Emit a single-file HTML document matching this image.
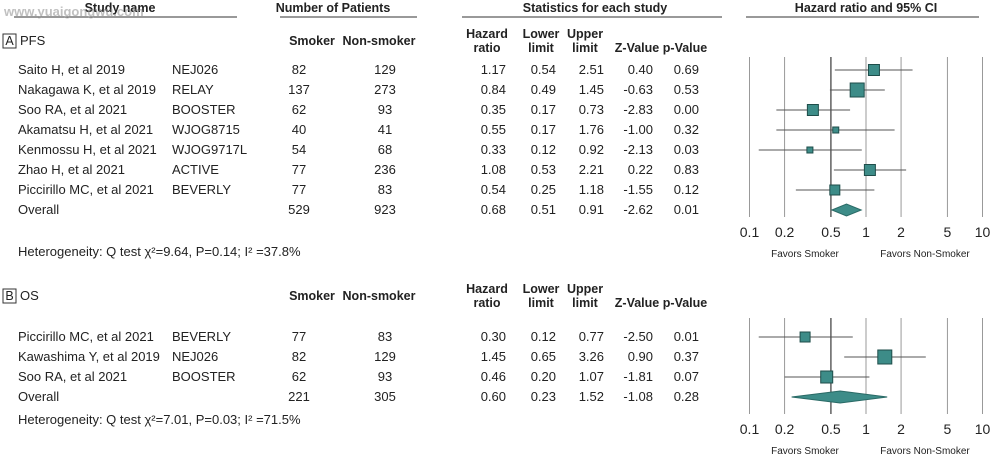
<!DOCTYPE html>
<html><head><meta charset="utf-8"><style>
body{margin:0;background:#fff;font-family:"Liberation Sans",Arial,sans-serif;}
svg text{font-family:"Liberation Sans",Arial,sans-serif;fill:#222;}
</style></head><body>
<svg id="c" width="990" height="458" xmlns="http://www.w3.org/2000/svg"></svg>
<script>
const studiesA=["Saito H, et al 2019","Nakagawa K, et al 2019","Soo RA, et al 2021","Akamatsu H, et al 2021","Kenmossu H, et al 2021","Zhao H, et al 2021","Piccirillo MC, et al 2021","Overall"];
const trialsA=["NEJ026","RELAY","BOOSTER","WJOG8715","WJOG9717L","ACTIVE","BEVERLY",""];
const smokA=[82,137,62,40,54,77,77,529];
const nonA=[129,273,93,41,68,236,83,923];
const hrA=[1.17,0.84,0.35,0.55,0.33,1.08,0.54,0.68];
const loA=[0.54,0.49,0.17,0.17,0.12,0.53,0.25,0.51];
const upA=[2.51,1.45,0.73,1.76,0.92,2.21,1.18,0.91];
const zA=["0.40","-0.63","-2.83","-1.00","-2.13","0.22","-1.55","-2.62"];
const pA=["0.69","0.53","0.00","0.32","0.03","0.83","0.12","0.01"];
const wA=[11,14,11,6,6,11,10,0];
const studiesB=["Piccirillo MC, et al 2021","Kawashima Y, et al 2019","Soo RA, et al 2021","Overall"];
const trialsB=["BEVERLY","NEJ026","BOOSTER",""];
const smokB=[77,82,62,221];
const nonB=[83,129,93,305];
const hrB=[0.30,1.45,0.46,0.60];
const loB=[0.12,0.65,0.20,0.23];
const upB=[0.77,3.26,1.07,1.52];
const zB=["-2.50","0.90","-1.81","-1.08"];
const pB=["0.01","0.37","0.07","0.28"];
const wB=[10,14,12,0];
const ticks=[0.1,0.2,0.5,1,2,5,10];

const svg=document.getElementById('c');const NS="http://www.w3.org/2000/svg";
function el(t,a,txt){const e=document.createElementNS(NS,t);for(const k in a)e.setAttribute(k,a[k]);if(txt!==undefined)e.textContent=txt;svg.appendChild(e);return e;}
function X(v){return 866+116.5*Math.log10(v);}
function tx(x,y,s,anchor,name,extra){const e=el('text',Object.assign({x:x,y:y,'font-size':12.5,'text-anchor':anchor||'start'},extra||{}),s);

return e;}
function ln(x1,y1,x2,y2,c,w,name){const e=el('line',{x1,y1,x2,y2,stroke:c,'stroke-width':w||1});

return e;}

const B={'font-weight':'bold','font-size':12.5};
tx(120,12,"Study name","middle","header-study-name",B);
ln(14,17,237,17,'#333',1,'header-underline');
tx(333,12,"Number of Patients","middle","header-patients",B);
ln(280,17,417,17,'#333',1,'header-underline');
tx(595,12,"Statistics for each study","middle","header-stats",B);
ln(462,17,722,17,'#333',1,'header-underline');
tx(866,12,"Hazard ratio and 95% CI","middle","header-hr",B);
ln(746,17,979,17,'#333',1,'header-underline');
const wm=tx(4,16,"www.yuaigongwu.com","start","watermark",{'font-weight':'bold','font-size':13});wm.style.fill='rgba(150,150,150,0.6)';

function section(y0,label,title,stud,tr,sm,nn,hr,lo,up,z,p,w,rowY,gTop,gBot,het){
  const b=el('rect',{x:3,y:y0-11,width:13,height:14,fill:'none',stroke:'#333'});
  
  
  tx(9.5,y0,label,'middle','panel-label');
  tx(20,y0,title,'start','panel-title',{'font-size':13});
  tx(312,y0,"Smoker","middle","col-smoker",B);
  tx(379,y0,"Non-smoker","middle","col-nonsmoker",B);
  tx(487,y0-7,"Hazard","middle","col-hr",B);
  tx(487,y0+7,"ratio","middle","col-hr",B);
  tx(541,y0-7,"Lower","middle","col-lower",B);
  tx(541,y0+7,"limit","middle","col-lower",B);
  tx(585,y0-7,"Upper","middle","col-upper",B);
  tx(585,y0+7,"limit","middle","col-upper",B);
  tx(637,y0+7,"Z-Value","middle","col-z",B);
  tx(685,y0+7,"p-Value","middle","col-p",B);
  ticks.forEach(t=>{ln(X(t),gTop,X(t),gBot,t===0.5?'#111':'#999',1,'gridline');
    tx(X(t),gBot+20,String(t),'middle','tick-label',{'font-size':14});});
  tx(805,gBot+40,"Favors Smoker","middle","favors-smoker",{'font-size':10});
  tx(925,gBot+40,"Favors Non-Smoker","middle","favors-nonsmoker",{'font-size':10});
  stud.forEach((s,i)=>{const y=rowY[i];
    tx(18,y+4,s,'start','study-name',{'font-size':13});
    tx(172,y+4,tr[i],'start','trial-name',{'font-size':13});
    tx(299,y+4,String(sm[i]),'middle','smoker-count',{'font-size':13});
    tx(385,y+4,String(nn[i]),'middle','nonsmoker-count',{'font-size':13});
    tx(506,y+4,hr[i].toFixed(2),'end','hr-value',{'font-size':13});
    tx(556,y+4,lo[i].toFixed(2),'end','lower-value',{'font-size':13});
    tx(604,y+4,up[i].toFixed(2),'end','upper-value',{'font-size':13});
    tx(653,y+4,z[i],'end','z-value',{'font-size':13});
    tx(699,y+4,p[i],'end','p-value',{'font-size':13});
    if(w[i]>0){
      ln(X(lo[i]),y,X(up[i]),y,'#555',1,'ci-line');
      const r=el('rect',{x:X(hr[i])-w[i]/2,y:y-w[i]/2,width:w[i],height:w[i],fill:'#3d8c88',stroke:'#1e4d4a','stroke-width':1});
      
      
    } else {
      const d=el('polygon',{points:`${X(lo[i])},${y} ${X(hr[i])},${y-6} ${X(up[i])},${y} ${X(hr[i])},${y+6}`,fill:'#3d8c88',stroke:'#2a6a66'});
      
      
    }
  });
  tx(18,het[0],het[1],'start','heterogeneity',{'font-size':13});
}
section(45,"A","PFS",studiesA,trialsA,smokA,nonA,hrA,loA,upA,zA,pA,wA,[70,90,110,130,150,170,190,210],57,217,
  [256,"Heterogeneity: Q test \u03C7\u00B2=9.64, P=0.14;  I\u00B2 =37.8%"]);
section(300,"B","OS",studiesB,trialsB,smokB,nonB,hrB,loB,upB,zB,pB,wB,[337,357,377,397],318,414,
  [424,"Heterogeneity: Q test \u03C7\u00B2=7.01, P=0.03;  I\u00B2 =71.5%"]);
</script>
</body></html>
